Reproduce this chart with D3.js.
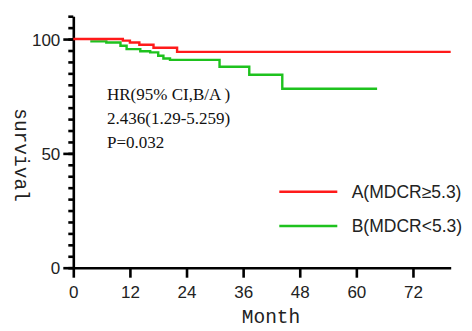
<!DOCTYPE html>
<html>
<head>
<meta charset="utf-8">
<script src="https://cdn.jsdelivr.net/npm/d3@7"></script>
<style>
  body { margin: 0; background: #fff; }
  svg { display: block; }
</style>
</head>
<body>
<div id="chart"></div>
<script>
// survival curves (month, survival %)
var redTimes = [0, 10.5, 12, 14, 17, 22, 80];
var redSurv = [100, 99.3, 98.5, 97.5, 96.2, 94.4, 94.4];
var greenTimes = [3.6, 7, 10, 11.3, 14.2, 16.3, 18, 19.1, 20.5, 31, 37.3, 44.3, 64.4];
var greenSurv = [99, 98.5, 97.1, 95.6, 94.7, 94.2, 92.7, 91.5, 90.9, 87.9, 84.4, 78.3, 78.3];
var xTicks = [0, 12, 24, 36, 48, 60, 72];
var yTicks = [0, 50, 100];
var seriesNames = ["A(MDCR\u22655.3)", "B(MDCR<5.3)"];
var seriesColors = ["#ff1a1a", "#1ec21e"];
var statLines = ["HR(95% CI,B/A )", "2.436(1.29-5.259)", "P=0.032"];

var W = 472, H = 331;
var svg = d3.select("#chart").append("svg").attr("width", W).attr("height", H);

var x = d3.scaleLinear().domain([0, 80]).range([73.3, 450.7]);
var y = d3.scaleLinear().domain([0, 110]).range([267.7, 16.2]);

// minor y ticks
svg.append("g")
  .attr("transform", "translate(" + x(0) + ",0)")
  .call(d3.axisLeft(y).tickValues(d3.range(0, 111, 5)).tickSize(5).tickFormat("").tickSizeOuter(0))
  .call(function (g) { g.select(".domain").remove(); });

var yAxis = svg.append("g")
  .attr("transform", "translate(" + x(0) + ",0)")
  .call(d3.axisLeft(y).tickValues(yTicks).tickSize(10).tickPadding(3).tickSizeOuter(0));

var xAxis = svg.append("g")
  .attr("transform", "translate(0," + y(0) + ")")
  .call(d3.axisBottom(x).tickValues(xTicks).tickSize(10).tickSizeOuter(0));

[yAxis, xAxis].forEach(function (g) {
  g.selectAll("path, line").attr("stroke", "#000").attr("stroke-width", 2.6);
  g.selectAll("text").attr("fill", "#222")
    .style("font-family", "'Liberation Sans', Arial, sans-serif").style("font-size", "17px");
});
svg.selectAll("g line").attr("stroke", "#000").attr("stroke-width", 2.6);
xAxis.selectAll("text").attr("dy", null).attr("y", 30);
yAxis.selectAll("text").attr("dy", "0.36em");

var line = d3.line()
  .x(function (d) { return x(d[0]); })
  .y(function (d) { return y(d[1]); })
  .curve(d3.curveStepAfter);

var red = redTimes.map(function (t, i) { return [t, redSurv[i]]; });
var green = greenTimes.map(function (t, i) { return [t, greenSurv[i]]; });

svg.append("path").datum(green).attr("d", line)
  .attr("fill", "none").attr("stroke", seriesColors[1]).attr("stroke-width", 2.4);
svg.append("path").datum(red).attr("d", line)
  .attr("fill", "none").attr("stroke", seriesColors[0]).attr("stroke-width", 2.4);

// stats text
svg.selectAll(".stat").data(statLines).enter().append("text")
  .attr("class", "stat")
  .attr("x", 107)
  .attr("y", function (d, i) { return 100 + i * 24; })
  .attr("fill", "#111")
  .style("font-family", "'Liberation Serif', 'Times New Roman', serif")
  .style("font-size", "17px")
  .text(function (d) { return d; });

// legend
var legend = svg.selectAll(".legend").data(seriesNames).enter().append("g")
  .attr("class", "legend")
  .attr("transform", function (d, i) { return "translate(0," + (191.7 + i * 34.3) + ")"; });
legend.append("line")
  .attr("x1", 279.3).attr("x2", 337.3)
  .attr("stroke", function (d, i) { return seriesColors[i]; })
  .attr("stroke-width", 2.4);
legend.append("text")
  .attr("x", 351.7).attr("y", 6)
  .attr("fill", "#222")
  .style("font-family", "'Liberation Sans', Arial, sans-serif")
  .style("font-size", "17.5px")
  .text(function (d) { return d; });

// axis titles
svg.append("text")
  .attr("x", 271).attr("y", 323)
  .attr("text-anchor", "middle")
  .attr("fill", "#222")
  .style("font-family", "'Liberation Mono', 'Courier New', monospace")
  .style("font-size", "19.5px")
  .text("Month");

svg.append("text")
  .attr("transform", "translate(15,155) rotate(90)")
  .attr("text-anchor", "middle")
  .attr("fill", "#222")
  .style("font-family", "'Liberation Mono', 'Courier New', monospace")
  .style("font-size", "19.5px")
  .text("survival");
</script>
</body>
</html>
